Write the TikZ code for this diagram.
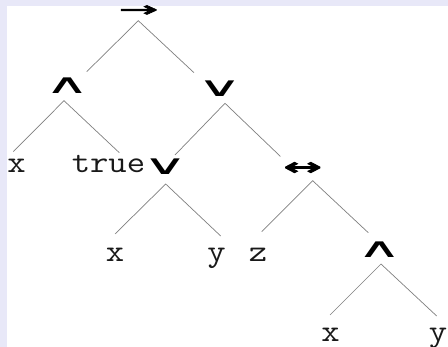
\documentclass[tikz,border=0pt]{standalone}
\usepackage{graphicx}
\usepackage{fontspec}
\newfontfamily\opfont{DejaVu Sans}
\newfontfamily\arrfont[FakeBold=2.5]{DejaVu Sans}
\newfontfamily\ifffont[FakeBold=3.5]{DejaVu Sans}
\definecolor{lav}{RGB}{232,232,248}
\definecolor{edgegray}{RGB}{128,128,128}
\newcommand\opwedge{\scalebox{2.3}[1]{\fontsize{27}{27}\opfont ∧}}
\newcommand\opvee{\scalebox{2.3}[1]{\fontsize{27}{27}\opfont ∨}}
\newcommand\oparrow{\scalebox{2.25}[1]{\fontsize{21}{21}\arrfont →}}
\newcommand\opiff{\scalebox{1.9}[1]{\fontsize{24}{24}\ifffont ↔}}
\newcommand\lf[1]{\scalebox{1.15}[1]{#1}}
\tikzset{
  leaf/.style={inner sep=0pt, anchor=base, font=\fontsize{31}{31}\ttfamily\selectfont, text=black!90},
  op/.style={inner sep=0pt, anchor=center},
  edge/.style={draw=edgegray, line width=0.7pt}
}
\begin{document}
\begin{tikzpicture}[x=1pt,y=-1pt]
\useasboundingbox (0,0) rectangle (448,347);
\fill[lav] (0,0) rectangle (448,347);
\fill[white] (7,6) rectangle (448,347);
% operator nodes
\node[op] (root) at (138.5,11) {\oparrow};
\node[op] (and1) at (67,86) {\opwedge};
\node[op] (or1) at (219.7,89) {\opvee};
\node[op] (or2) at (165,167) {\opvee};
\node[op] (iff) at (302.7,168.7) {\opiff};
\node[op] (and2) at (379.3,250) {\opwedge};
% leaves
\node[leaf] (x1) at (16.5,173) {\lf{x}};
\node[leaf] (tr) at (108.5,173) {\lf{true}};
\node[leaf] (x2) at (115,261.5) {\lf{x}};
\node[leaf] (y2) at (216.5,261.5) {\lf{y}};
\node[leaf] (z2) at (258,261.5) {\lf{z}};
\node[leaf] (x3) at (330.5,341.7) {\lf{x}};
\node[leaf] (y3) at (438,341.7) {\lf{y}};
% edge end points
\coordinate (rA) at (138.3,20.7);
\coordinate (rL) at (86.7,71.7);
\coordinate (rR) at (194,72.7);
\coordinate (a1A) at (64,100.7);
\coordinate (a1L) at (13.3,151.7);
\coordinate (a1R) at (119.3,152.7);
\coordinate (o1A) at (225,103.3);
\coordinate (o1L) at (175,155);
\coordinate (o1R) at (280.5,156.5);
\coordinate (o2A) at (165.7,184);
\coordinate (o2L) at (115,234);
\coordinate (o2R) at (220.7,236);
\coordinate (iA) at (312.7,180.7);
\coordinate (iL) at (261.7,231.7);
\coordinate (iR) at (368.3,232.7);
\coordinate (a2A) at (381,264);
\coordinate (a2L) at (330,315);
\coordinate (a2R) at (436.7,316);
\draw[edge] (rL) -- (rA) -- (rR);
\draw[edge] (a1L) -- (a1A) -- (a1R);
\draw[edge] (o1L) -- (o1A) -- (o1R);
\draw[edge] (o2L) -- (o2A) -- (o2R);
\draw[edge] (iL) -- (iA) -- (iR);
\draw[edge] (a2L) -- (a2A) -- (a2R);
\end{tikzpicture}
\end{document}
